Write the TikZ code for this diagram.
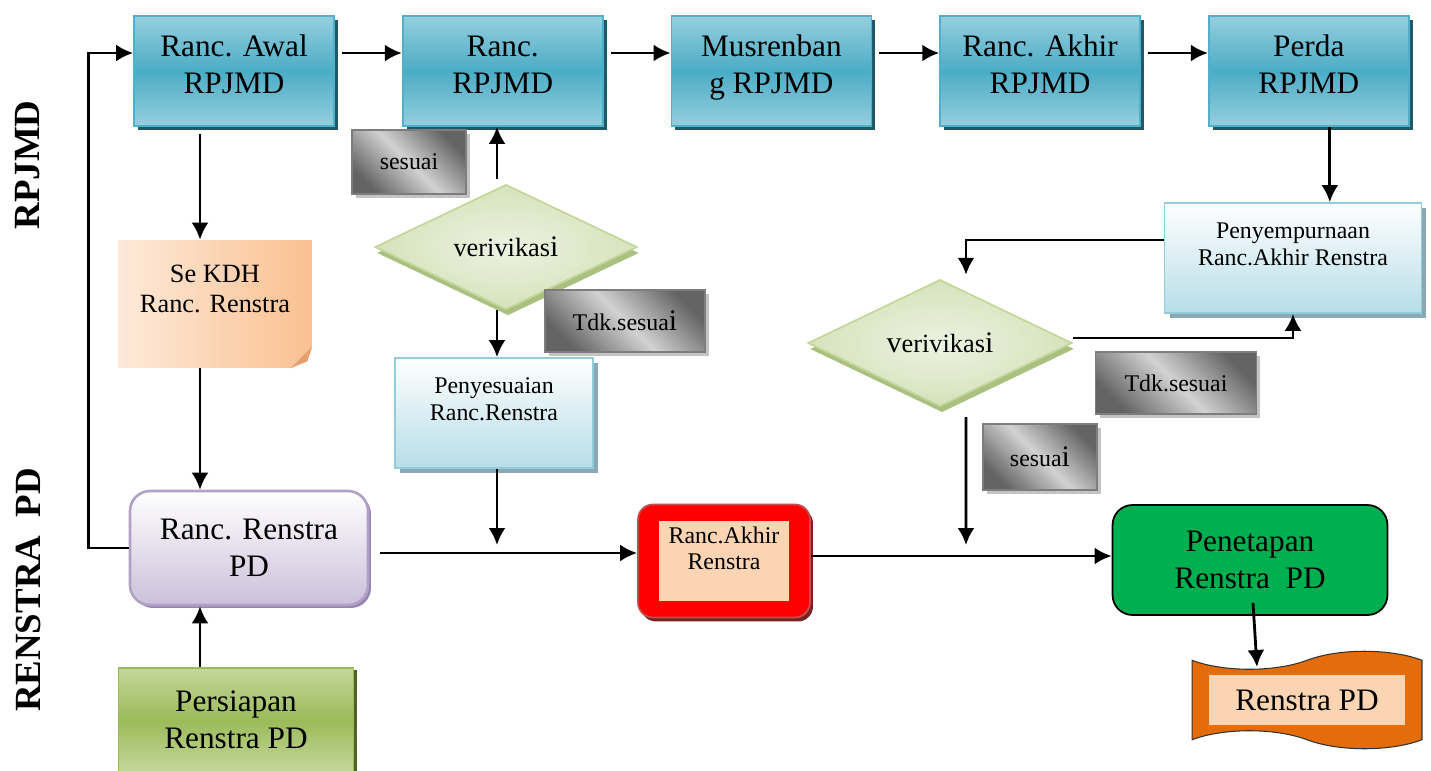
\documentclass[tikz,border=0pt]{standalone}
\usepackage{fontspec}
\setmainfont{Liberation Serif}
\usetikzlibrary{positioning,arrows.meta,calc,shapes.geometric,shapes.symbols,shadows}
\definecolor{tealmid}{RGB}{75,172,198}
\definecolor{teallight}{RGB}{150,207,222}
\definecolor{tealline}{RGB}{80,175,202}
\definecolor{tealshadow}{RGB}{33,89,104}
\definecolor{gdark}{RGB}{100,100,100}
\definecolor{glight}{RGB}{210,210,210}
\definecolor{gline}{RGB}{125,125,125}
\definecolor{gshadow}{RGB}{195,195,195}
\definecolor{dinner}{RGB}{236,242,225}
\definecolor{douter}{RGB}{214,227,188}
\definecolor{dline}{RGB}{196,215,155}
\definecolor{dshadow}{RGB}{170,192,128}
\definecolor{lbbot}{RGB}{183,221,232}
\definecolor{lbline}{RGB}{146,205,220}
\definecolor{lbshadow}{RGB}{140,168,178}
\definecolor{purpbot}{RGB}{204,192,218}
\definecolor{purpline}{RGB}{178,161,199}
\definecolor{purpshadow}{RGB}{150,132,178}
\definecolor{grmid}{RGB}{155,187,89}
\definecolor{grlight}{RGB}{196,215,155}
\definecolor{grshadow}{RGB}{79,98,40}
\definecolor{seklight}{RGB}{253,234,218}
\definecolor{sekdark}{RGB}{250,192,144}
\definecolor{sekfold}{RGB}{228,160,110}
\definecolor{redline}{RGB}{192,80,77}
\definecolor{redshadow}{RGB}{120,35,35}
\definecolor{peach}{RGB}{251,212,180}
\definecolor{penetgreen}{RGB}{0,176,80}
\definecolor{docorange}{RGB}{228,108,10}
\newcommand{\bigch}[1]{{\fontsize{17}{17}\selectfont #1}}

\begin{document}
\begin{tikzpicture}[x=0.02cm,y=-0.02cm,>={Latex[length=3.4mm,width=3.4mm]},
    flow/.style={->,line width=1.6pt},
    rpj/.style={draw=tealline,line width=1pt,top color=teallight,bottom color=teallight,middle color=tealmid,
      minimum width=4cm,minimum height=2.2cm,align=center,font=\fontsize{17.8}{21}\selectfont,text depth=7.5pt,
      drop shadow={shadow xshift=0.08cm,shadow yshift=-0.08cm,fill=tealshadow,opacity=1}},
    tagbox/.style={draw=gline,line width=1pt,top color=gdark,bottom color=gdark,middle color=glight,shading angle=-45,
      minimum height=1.28cm,font=\fontsize{13.6}{16}\selectfont,
      drop shadow={shadow xshift=0.08cm,shadow yshift=-0.08cm,fill=gshadow,opacity=1}},
    check/.style={diamond,draw=dline,line width=1pt,inner color=dinner,outer color=douter,inner sep=0pt,
      minimum width=5.24cm,minimum height=2.08cm,font=\fontsize{15}{18}\selectfont,
      drop shadow={shadow xshift=0.04cm,shadow yshift=-0.12cm,fill=dshadow,opacity=1}},
    lightbox/.style={draw=lbline,line width=1pt,top color=white,bottom color=lbbot,align=center,
      minimum height=2.2cm,font=\fontsize{13.6}{15.5}\selectfont,
      drop shadow={shadow xshift=0.1cm,shadow yshift=-0.1cm,fill=lbshadow,opacity=1}},
    side/.style={rotate=90,font=\bfseries\fontsize{21}{24}\selectfont}]
  \useasboundingbox (0,0) rectangle (1431,771);

  % side labels
  \node[side] (lblrpj) at (28,165) {RPJMD};
  \node[side] (lblren) at (28,590) {RENSTRA\ \ PD};

  % RPJMD row
  \node[rpj] (awal) at (234,71) {Ranc. Awal\\RPJMD};
  \node[rpj,right=1.34cm of awal] (ranc) {Ranc.\\RPJMD};
  \node[rpj,right=1.34cm of ranc] (musren) {Musrenban\\g RPJMD};
  \node[rpj,right=1.34cm of musren] (akhir) {Ranc. Akhir\\RPJMD};
  \node[rpj,right=1.34cm of akhir] (perda) {Perda\\RPJMD};

  % first check
  \node[tagbox,minimum width=2.28cm] (ok1) at (409,162) {sesuai};
  \node[check] (ver1) at (506,247) {verivikas\bigch{i}};
  \node[tagbox,minimum width=3.2cm,minimum height=1.24cm] (no1) at (625,321) {Tdk.sesua\bigch{i}};
  \node[lightbox,minimum width=3.96cm] (pen) at (494,413) {Penyesuaian\\Ranc.Renstra\\~};

  % left column
  \node[left color=seklight,right color=sekdark,align=center,minimum width=3.88cm,minimum height=2.56cm,
    font=\fontsize{15}{17}\selectfont] (sekdh) at (215,304) {Se KDH\\Ranc. Renstra\\~};
  \fill[white] ($(sekdh.south east)+(-22,0)$) -- (sekdh.south east) -- ($(sekdh.south east)+(0,-22)$) -- cycle;
  \fill[sekfold] ($(sekdh.south east)+(-22,0)$) -- ($(sekdh.south east)+(-5,-7)$) -- ($(sekdh.south east)+(0,-22)$) -- cycle;
  \node[draw=purpline,line width=1.5pt,rounded corners=0.4cm,top color=white,bottom color=purpbot,align=center,
    minimum width=4.76cm,minimum height=2.28cm,font=\fontsize{17.8}{21}\selectfont,
    drop shadow={shadow xshift=0.06cm,shadow yshift=-0.06cm,fill=purpshadow,opacity=1}] (rrpd) at (249,548) {Ranc. Renstra\\PD};
  \node[draw=grmid,line width=1pt,top color=grlight,bottom color=grlight,middle color=grmid,align=center,
    minimum width=4.7cm,minimum height=2.08cm,font=\fontsize{17.8}{21}\selectfont,
    drop shadow={shadow xshift=0.08cm,shadow yshift=-0.04cm,fill=grshadow,opacity=1}] (prep) at (236,720) {Persiapan\\Renstra PD};

  % bottom row
  \node[draw=redline,line width=1pt,rounded corners=0.3cm,fill=red,minimum width=3.44cm,minimum height=2.26cm,
    drop shadow={shadow xshift=0.06cm,shadow yshift=-0.08cm,fill=redshadow,opacity=1}] (rakhir) at (724,561) {};
  \node[fill=peach,align=center,minimum width=2.6cm,minimum height=1.6cm,font=\fontsize{13.6}{14.8}\selectfont]
    (rakhirin) at (rakhir.center) {Ranc.Akhir\\Renstra\\~};
  \node[draw=black,line width=1pt,rounded corners=0.4cm,fill=penetgreen,align=center,minimum width=5.5cm,
    minimum height=2.2cm,font=\fontsize{17.8}{21}\selectfont] (penet) at (1250,560) {Penetapan\\Renstra\ \ PD};
  \node[tape,draw=black!80,line width=0.6pt,fill=docorange,minimum width=4.6cm,minimum height=1.95cm,
    tape bend top=in and out,tape bend bottom=out and in,tape bend height=0.36cm] (doc) at (1307,700) {};
  \node[fill=peach,minimum width=3.94cm,minimum height=1cm,font=\fontsize{17.8}{21}\selectfont]
    (docin) at (doc.center) {Renstra PD};

  % second check
  \node[lightbox,minimum width=5.14cm] (pny) at (1293,258) {Penyempurnaan\\Ranc.Akhir Renstra\\~};
  \node[check,minimum width=5.28cm,minimum height=2.06cm] (ver2) at (940,343) {\bigch{v}erivikas\bigch{i}};
  \node[tagbox,minimum width=3.22cm,minimum height=1.24cm] (no2) at (1176,383) {Tdk.sesuai};
  \node[tagbox,minimum width=2.28cm,minimum height=1.32cm] (ok2) at (1040,457) {sesua\bigch{i}};

  \coordinate (penend) at (497,545);
  \coordinate (ver2end) at (966,545);

  % connectors
  \draw[flow,shorten <=4pt] ([yshift=0.36cm]awal.east) -- ([yshift=0.36cm]awal.east -| ranc.west);
  \draw[flow,shorten <=4pt] ([yshift=0.36cm]ranc.east) -- ([yshift=0.36cm]ranc.east -| musren.west);
  \draw[flow,shorten <=4pt] ([yshift=0.36cm]musren.east) -- ([yshift=0.36cm]musren.east -| akhir.west);
  \draw[flow,shorten <=4pt] ([yshift=0.36cm]akhir.east) -- ([yshift=0.36cm]akhir.east -| perda.west);
  \draw[flow] (rrpd.west) -- ++(-40,0) |- ([yshift=0.36cm]awal.west);
  \draw[flow,shorten <=4pt] ([xshift=-0.68cm]awal.south) -- ([xshift=-0.68cm]awal.south |- sekdh.north);
  \draw[flow] ([xshift=-0.3cm]sekdh.south) -- ([xshift=-0.3cm]sekdh.south |- rrpd.north);
  \draw[flow] ([xshift=-0.72cm]prep.north) -- ([xshift=-0.72cm]prep.north |- rrpd.south);
  \draw[flow] ([xshift=-0.18cm,yshift=0.1cm]ver1.north) -- ([xshift=-0.18cm]ver1.north |- ranc.south);
  \draw[flow] ([xshift=-0.18cm]ver1.south) -- ([xshift=-0.18cm]ver1.south |- pen.north);
  \draw[flow] (pen.south -| penend) -- (penend);
  \draw[flow,shorten <=6pt] ([yshift=-0.1cm]rrpd.east) -- ([yshift=-0.1cm]rrpd.east -| rakhir.west);
  \draw[flow] ([yshift=0.1cm]rakhir.east) -- ([yshift=0.1cm]rakhir.east -| penet.west);
  \draw[flow] ([xshift=0.42cm]perda.south) -- ([xshift=0.42cm]perda.south |- pny.north);
  \draw[flow] ([yshift=0.36cm]pny.west) -| ([xshift=0.52cm,yshift=0.08cm]ver2.north);
  \draw[flow] ([yshift=0.1cm]ver2.east) -| (pny.south);
  \draw[flow] ([xshift=0.52cm,yshift=-0.2cm]ver2.south) -- (ver2end);
  \draw[flow] ([xshift=0.06cm,yshift=0.26cm]penet.south) -- ($(doc.center)+(-50,-33)$);
\end{tikzpicture}
\end{document}
